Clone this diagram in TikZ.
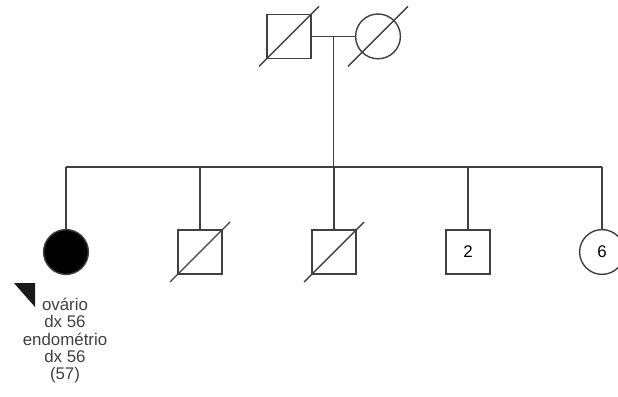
\documentclass[tikz,border=0pt]{standalone}
\usepackage{fontspec}
\setmainfont{Liberation Sans}
\usetikzlibrary{calc}

\tikzset{
  pedline/.style={line width=1pt, draw=black!75},
  male/.style={pedline, rectangle, minimum size=1.1cm, inner sep=0pt, font=\fontsize{12}{12}\selectfont},
  female/.style={pedline, circle, minimum size=1.12cm, inner sep=0pt, font=\fontsize{12}{12}\selectfont},
  affected/.style={fill=black}
}

\begin{document}
\begin{tikzpicture}

\useasboundingbox (0,0) rectangle (15.45,9.9);

% Parents
\node[male]   (father) at (7.225,8.99) {};
\node[female] (mother) at (9.45,8.99) {};

% Children
\node[female, affected] (proband) at (1.65,3.6) {};
\node[male]   (son1)    at (5.0,3.6)  {};
\node[male]   (son2)    at (8.35,3.6) {};
\node[male]   (sons)    at (11.7,3.6) {2};
\node[female] (daughters) at (15.05,3.6) {6};

% Coordinates
\coordinate (mid)  at ($(father.east)!0.5!(mother.west)$);
\coordinate (sibL) at (1.65,5.725);
\coordinate (sibR) at (15.05,5.725);

% Lines
\draw[pedline] (father.east) -- (mother.west);
\draw[pedline] (mid) -- (mid |- sibL);
\draw[pedline] (sibL) -- (sibR);
\foreach \n in {proband,son1,son2,sons,daughters}
  \draw[pedline] (\n.north |- sibL) -- (\n.north);

% Deceased
\foreach \n in {father,mother,son1,son2}
  \draw[pedline] ($(\n)+(-0.75,-0.75)$) -- ($(\n)+(0.75,0.75)$);

% Proband marker and notes
\fill[black!90] (0.35,2.825) -- (0.875,2.825) -- (0.875,2.225) -- cycle;
\node[align=center, font=\fontsize{12}{12.3}\selectfont, text=black!75] (notes) at (1.625,1.38)
  {ovário\\dx 56\\endométrio\\dx 56\\(57)};

\end{tikzpicture}
\end{document}
